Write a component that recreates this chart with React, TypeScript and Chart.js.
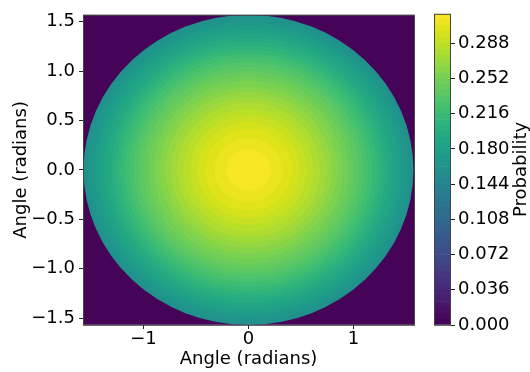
import { useEffect, useRef } from "react";
import { Chart, registerables } from "chart.js";

Chart.register(...registerables);
Chart.defaults.font.family = "'DejaVu Sans', sans-serif";
Chart.defaults.color = "#000";

// Radial probability profile of the disk (angle from centre, radians)
const radii = [0, 0.1, 0.2, 0.3, 0.4, 0.5, 0.6, 0.7, 0.8, 0.9, 1.0, 1.1, 1.2, 1.3, 1.4, 1.5, 1.5708];
const probability = [
  0.3165, 0.3155, 0.3125, 0.3075, 0.301, 0.293, 0.284, 0.274, 0.263, 0.252, 0.24, 0.227, 0.213,
  0.198, 0.183, 0.167, 0.155,
];
const diskRadius = 1.5708;
const outsideProbability = 0;

// Axis limits and ticks
const xLimits = [-1.576, 1.576];
const yLimits = [-1.5708, 1.5708];
const xTicks = [-1, 0, 1];
const yTicks = [-1.5, -1.0, -0.5, 0.0, 0.5, 1.0, 1.5];

// Filled-contour levels
const levelStep = 0.006;
const levelCount = 53;
const levels = Array.from({ length: levelCount + 1 }, (_, i) => +(i * levelStep).toFixed(3));
const colorbarTicks = [0, 0.036, 0.072, 0.108, 0.144, 0.18, 0.216, 0.252, 0.288];

const VIRIDIS = [
  "#440154", "#471164", "#482475", "#463480", "#414487", "#3b528b", "#355f8d",
  "#2f6c8e", "#2a788e", "#25848e", "#21918c", "#1e9c89", "#22a884", "#2fb47c",
  "#44bf70", "#5ec962", "#7ad151", "#9bd93c", "#bddf26", "#dfe318", "#fde725",
];
const viridisRgb = VIRIDIS.map((h) => [
  parseInt(h.slice(1, 3), 16),
  parseInt(h.slice(3, 5), 16),
  parseInt(h.slice(5, 7), 16),
]);

function viridis(t: number): number[] {
  const c = Math.min(1, Math.max(0, t)) * (viridisRgb.length - 1);
  const i = Math.min(viridisRgb.length - 2, Math.floor(c));
  const f = c - i;
  return viridisRgb[i].map((v, k) => Math.round(v + (viridisRgb[i + 1][k] - v) * f));
}

const levelMin = levels[0];
const levelMax = levels[levels.length - 1];
// contourf colours each band by its mid value
const bandRgb = levels.slice(0, -1).map((lo, i) => {
  const mid = (lo + levels[i + 1]) / 2;
  return viridis((mid - levelMin) / (levelMax - levelMin));
});
const rgbCss = (c: number[]) => `rgb(${c[0]},${c[1]},${c[2]})`;

function bandIndex(v: number): number {
  let k = Math.floor((v - levelMin) / levelStep + 1e-9);
  if (k < 0) k = 0;
  if (k > bandRgb.length - 1) k = bandRgb.length - 1;
  return k;
}

function profileAt(r: number): number {
  const n = radii.length;
  if (r >= radii[n - 1]) return probability[n - 1];
  for (let i = 0; i < n - 1; i++) {
    if (r <= radii[i + 1]) {
      const f = (r - radii[i]) / (radii[i + 1] - radii[i]);
      return probability[i] + (probability[i + 1] - probability[i]) * f;
    }
  }
  return probability[n - 1];
}

const FONT = { size: 18, family: "'DejaVu Sans', sans-serif" };
const minus = (s: string) => s.replace("-", "\u2212");

// Paints the filled contour field under the axes
const contourPlugin = {
  id: "contourField",
  beforeDatasetsDraw(chart: any) {
    const { ctx, chartArea: a, scales } = chart;
    const xs = scales.x;
    const ys = scales.y;
    const w = Math.round(a.right - a.left);
    const h = Math.round(a.bottom - a.top);

    ctx.save();
    ctx.fillStyle = rgbCss(bandRgb[bandIndex(outsideProbability)]);
    ctx.fillRect(a.left, a.top, w, h);

    const off = document.createElement("canvas");
    off.width = w;
    off.height = h;
    const octx = off.getContext("2d")!;
    const img = octx.createImageData(w, h);
    for (let py = 0; py < h; py++) {
      const vy = ys.getValueForPixel(a.top + py + 0.5);
      for (let px = 0; px < w; px++) {
        const vx = xs.getValueForPixel(a.left + px + 0.5);
        const r = Math.hypot(vx, vy);
        const c = bandRgb[bandIndex(profileAt(Math.min(r, diskRadius)))];
        const o = (py * w + px) * 4;
        img.data[o] = c[0];
        img.data[o + 1] = c[1];
        img.data[o + 2] = c[2];
        img.data[o + 3] = 255;
      }
    }
    octx.putImageData(img, 0, 0);

    const cx = xs.getPixelForValue(0);
    const cy = ys.getPixelForValue(0);
    const rx = xs.getPixelForValue(diskRadius) - cx;
    const ry = cy - ys.getPixelForValue(diskRadius);
    ctx.beginPath();
    ctx.ellipse(cx, cy, rx, ry, 0, 0, Math.PI * 2);
    ctx.clip();
    ctx.drawImage(off, a.left, a.top);
    ctx.restore();
  },
  afterDraw(chart: any) {
    const { ctx, chartArea: a } = chart;
    ctx.save();
    ctx.strokeStyle = "#444";
    ctx.lineWidth = 1;
    ctx.strokeRect(a.left + 0.5, a.top + 0.5, Math.round(a.right - a.left), Math.round(a.bottom - a.top));
    ctx.restore();
  },
};

const colorbarPlugin = {
  id: "colorbarFrame",
  afterDraw(chart: any) {
    const { ctx, chartArea: a } = chart;
    ctx.save();
    ctx.strokeStyle = "#444";
    ctx.lineWidth = 1;
    ctx.strokeRect(a.left + 0.5, a.top + 0.5, Math.round(a.right - a.left) - 1, Math.round(a.bottom - a.top));
    ctx.translate(92, (a.top + a.bottom) / 2);
    ctx.rotate(-Math.PI / 2);
    ctx.font = `18px ${FONT.family}`;
    ctx.fillStyle = "#000";
    ctx.textAlign = "center";
    ctx.textBaseline = "alphabetic";
    ctx.fillText("Probability", 0, 0);
    ctx.restore();
  },
};

const tickGrid = { drawOnChartArea: false, drawTicks: true, tickLength: 4, color: "#222", lineWidth: 1 };

export default function App() {
  const mainRef = useRef<HTMLCanvasElement>(null);
  const barRef = useRef<HTMLCanvasElement>(null);

  useEffect(() => {
    const main = new Chart(mainRef.current!, {
      type: "scatter",
      data: { datasets: [] },
      options: {
        responsive: false,
        animation: false,
        events: [],
        layout: { padding: { left: 0, right: 116, top: 5, bottom: 0 } },
        plugins: { legend: { display: false }, tooltip: { enabled: false } },
        scales: {
          x: {
            type: "linear",
            min: xLimits[0],
            max: xLimits[1],
            afterBuildTicks: (s: any) => {
              s.ticks = xTicks.map((value) => ({ value }));
            },
            afterFit: (s: any) => {
              s.height = 47;
            },
            ticks: {
              font: FONT,
              padding: 0,
              maxRotation: 0,
              autoSkip: false,
              callback: (v: any) => minus(Number(v).toFixed(0)),
            },
            grid: tickGrid,
            border: { display: false },
            title: { display: true, text: "Angle (radians)", font: FONT, padding: { top: 0, bottom: 2 } },
          },
          y: {
            type: "linear",
            min: yLimits[0],
            max: yLimits[1],
            afterBuildTicks: (s: any) => {
              s.ticks = yTicks.map((value) => ({ value }));
            },
            afterFit: (s: any) => {
              s.width = 83;
            },
            ticks: {
              font: FONT,
              padding: 4,
              autoSkip: false,
              callback: (v: any) => minus(Number(v).toFixed(1)),
            },
            grid: tickGrid,
            border: { display: false },
            title: { display: true, text: "Angle (radians)", font: FONT, padding: { top: 11, bottom: 0 } },
          },
        },
      },
      plugins: [contourPlugin],
    } as any);

    const colorbar = new Chart(barRef.current!, {
      type: "bar",
      data: {
        labels: [""],
        datasets: bandRgb.map((c, i) => ({
          data: [[levels[i], levels[i + 1]]],
          backgroundColor: rgbCss(c),
          borderWidth: 0,
          barPercentage: 1,
          categoryPercentage: 1,
        })),
      },
      options: {
        responsive: false,
        animation: false,
        events: [],
        layout: { padding: { left: 0, right: 0, top: 5, bottom: 47 } },
        plugins: { legend: { display: false }, tooltip: { enabled: false } },
        scales: {
          x: { display: false, stacked: true },
          y: {
            position: "right",
            min: levelMin,
            max: levelMax,
            afterBuildTicks: (s: any) => {
              s.ticks = colorbarTicks.map((value) => ({ value }));
            },
            afterFit: (s: any) => {
              s.width = 79;
            },
            ticks: {
              font: FONT,
              padding: 3,
              autoSkip: false,
              callback: (v: any) => Number(v).toFixed(3),
            },
            grid: tickGrid,
            border: { display: false },
          },
        },
      },
      plugins: [colorbarPlugin],
    } as any);

    return () => {
      main.destroy();
      colorbar.destroy();
    };
  }, []);

  return (
    <div style={{ position: "fixed", left: 0, top: 0, width: 530, height: 372, background: "#fff" }}>
      <canvas ref={mainRef} width={530} height={372} style={{ position: "absolute", left: 0, top: 0 }} />
      <canvas ref={barRef} width={96} height={372} style={{ position: "absolute", left: 434, top: 0 }} />
    </div>
  );
}
